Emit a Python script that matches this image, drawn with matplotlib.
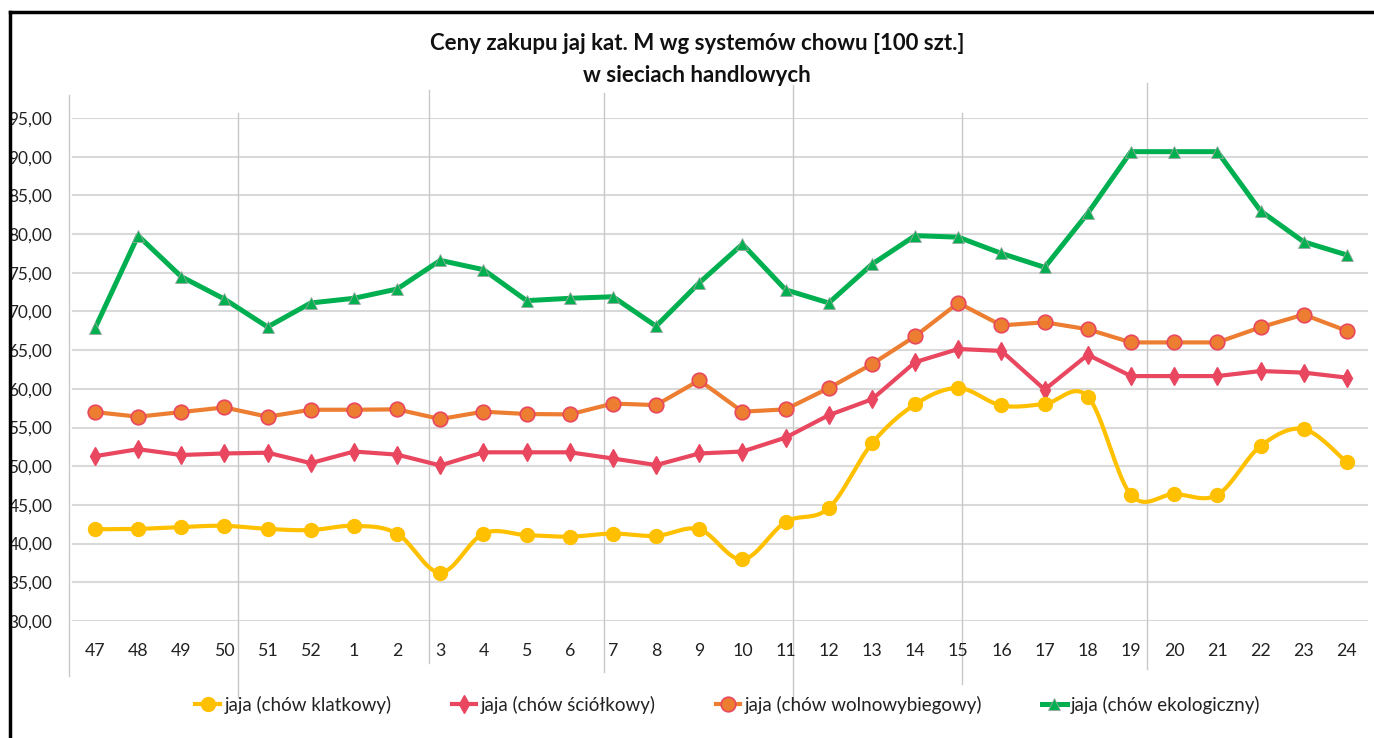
import numpy as np
import matplotlib
matplotlib.use("Agg")
import matplotlib.pyplot as plt
from matplotlib.lines import Line2D
import matplotlib.transforms as mtransforms

plt.rcParams["font.family"] = ["Lato", "DejaVu Sans"]

weeks = ["47", "48", "49", "50", "51", "52", "1", "2", "3", "4", "5", "6", "7", "8",
         "9", "10", "11", "12", "13", "14", "15", "16", "17", "18", "19", "20", "21",
         "22", "23", "24"]

klatkowy = [41.85, 41.9, 42.15, 42.3, 41.9, 41.75, 42.3, 41.3, 36.25, 41.3, 41.1, 40.9,
            41.3, 41.0, 41.85, 37.95, 42.8, 44.6, 52.95, 58.0, 60.1, 57.85, 58.05, 59.0,
            46.3, 46.4, 46.3, 52.6, 54.8, 50.5]
sciolkowy = [51.3, 52.2, 51.45, 51.65, 51.75, 50.4, 51.9, 51.5, 50.1, 51.8, 51.8, 51.8,
             51.0, 50.15, 51.65, 51.9, 53.7, 56.6, 58.65, 63.45, 65.15, 64.9, 59.9, 64.4,
             61.65, 61.65, 61.65, 62.3, 62.1, 61.45]
wolnowybiegowy = [57.0, 56.4, 57.0, 57.6, 56.4, 57.3, 57.3, 57.35, 56.1, 57.05, 56.75,
                  56.7, 58.1, 57.9, 61.1, 57.05, 57.35, 60.1, 63.2, 66.8, 71.1, 68.2,
                  68.6, 67.7, 66.0, 66.0, 66.0, 67.95, 69.6, 67.5]
ekologiczny = [67.8, 79.8, 74.5, 71.6, 68.0, 71.1, 71.7, 72.9, 76.6, 75.4, 71.4, 71.7,
               71.9, 68.1, 73.7, 78.7, 72.8, 71.1, 76.1, 79.8, 79.6, 77.5, 75.7, 82.7,
               90.65, 90.65, 90.65, 83.0, 79.0, 77.3]

labels = ["jaja (chów klatkowy)", "jaja (chów ściółkowy)",
          "jaja (chów wolnowybiegowy)", "jaja (chów ekologiczny)"]


def smooth(xs, ys, n=20):
    # Excel-style smoothed line (Catmull-Rom through the points)
    p = np.column_stack([xs, ys]).astype(float)
    p = np.vstack([p[0], p, p[-1]])
    out = []
    t = np.linspace(0, 1, n)[:, None]
    for k in range(1, len(p) - 2):
        p0, p1, p2, p3 = p[k - 1], p[k], p[k + 1], p[k + 2]
        c1 = p1 + (p2 - p0) / 6
        c2 = p2 - (p3 - p1) / 6
        seg = ((1 - t) ** 3) * p1 + 3 * ((1 - t) ** 2) * t * c1 + 3 * (1 - t) * t ** 2 * c2 + t ** 3 * p2
        out.append(seg if k == 1 else seg[1:])
    out = np.vstack(out)
    return out[:, 0], out[:, 1]


W, H = 1374, 738
fig = plt.figure(figsize=(W / 100, H / 100), dpi=100)
ax = fig.add_axes([69 / W, 1 - 621 / H, (1368 - 69) / W, (621 - 118) / H])

x = np.arange(len(weeks))
ax.set_xlim(-0.6, 29.49)
ax.set_ylim(30, 95)

# horizontal grid
for v in np.arange(30, 96, 5):
    ax.axhline(v, xmin=4 / 1299, xmax=1, color="#d9d9d9", lw=1.5, zorder=0)

# stray vertical separators (x in category units, y in pixels)
seps = [(-0.6, 95, 676), (3.32, 113, 697), (7.75, 90, 663), (11.80, 93, 672),
        (16.17, 85, 705), (20.08, 113, 684), (24.36, 83, 669)]
trans = mtransforms.blended_transform_factory(ax.transData, fig.transFigure)
for sx, y0, y1 in seps:
    ax.plot([sx, sx], [1 - y0 / H, 1 - y1 / H], transform=trans, color="#c8c8c8",
            lw=1.0, clip_on=False, zorder=0)

yellow = "#FFC000"
red = "#E8475F"
orange = "#ED7D31"
green = "#00B050"

sx_, sy_ = smooth(x, klatkowy)
ax.plot(sx_, sy_, color=yellow, lw=3, zorder=3, solid_capstyle="round")
ax.plot(x, klatkowy, ls="none", marker="o", ms=10, color=yellow, mec=yellow, zorder=4)

ax.plot(x, sciolkowy, color=red, lw=3, marker="d", ms=9, mec=red, zorder=3)
ax.plot(x, wolnowybiegowy, color=orange, lw=3, marker="o", ms=10.5, mfc=orange,
        mec=red, mew=1.2, zorder=3)
ax.plot(x, ekologiczny, color=green, lw=3.6, marker="^", ms=9, mfc=green,
        mec="#9aa89f", mew=0.6, zorder=3)

for s in ax.spines.values():
    s.set_visible(False)
ax.set_yticks(np.arange(30, 96, 5))
ax.set_yticklabels([f"{v:.2f}".replace(".", ",") for v in np.arange(30, 96, 5)],
                   fontsize=12.4, color="#222222")
ax.set_xticks(x)
ax.set_xticklabels(weeks, fontsize=12.8, color="#222222")
ax.tick_params(axis="y", length=0, pad=12)
ax.tick_params(axis="x", length=0, pad=16)

fig.text(697 / W, 1 - 44 / H, "Ceny zakupu jaj kat. M wg systemów chowu [100 szt.]",
         ha="center", va="center", fontsize=16, fontweight="bold", color="#111111")
fig.text(697 / W, 1 - 75 / H, "w sieciach handlowych",
         ha="center", va="center", fontsize=16, fontweight="bold", color="#111111")

handles = [
    Line2D([], [], color=yellow, lw=3, marker="o", ms=10, mec=yellow),
    Line2D([], [], color=red, lw=3, marker="d", ms=9, mec=red),
    Line2D([], [], color=orange, lw=3, marker="o", ms=10.5, mec=red, mew=1.2),
    Line2D([], [], color=green, lw=3.6, marker="^", ms=9, mec="#9aa89f", mew=0.6),
]
fig.legend(handles, labels, loc="center", bbox_to_anchor=(728 / W, 1 - 705 / H),
           ncol=4, frameon=False, fontsize=13.5, handlelength=1.3, handletextpad=0.25,
           columnspacing=3.2, labelcolor="#222222")

# black frame on top and left
fig.add_artist(Line2D([10 / W, 1], [1 - 12 / H, 1 - 12 / H], color="black", lw=2.5))
fig.add_artist(Line2D([10 / W, 10 / W], [1 - 12 / H, 0], color="black", lw=2.5))

fig.savefig("out.png", dpi=100)
